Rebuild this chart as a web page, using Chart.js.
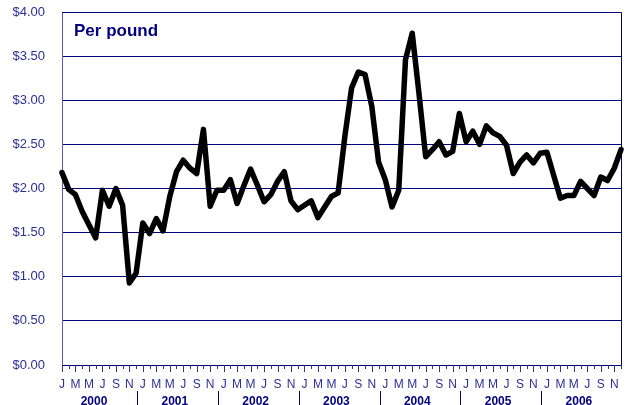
<!DOCTYPE html>
<html>
<head>
<meta charset="utf-8">
<script src="https://cdn.jsdelivr.net/npm/chart.js@4.4.0/dist/chart.umd.min.js"></script>
<style>
  body { margin: 0; background: #fff; }
</style>
</head>
<body>
<canvas id="grafico" width="631" height="405"></canvas>
<script>
const ctx = document.getElementById('grafico');

const years = ['2000', '2001', '2002', '2003', '2004', '2005', '2006']
const monthLetters = ['J', 'F', 'M', 'A', 'M', 'J', 'J', 'A', 'S', 'O', 'N', 'D']

// dollars per pound, one array per year (Jan..Dec)
const price2000 = [2.18, 1.99, 1.93, 1.74, 1.59, 1.44, 1.98, 1.80, 2.00, 1.81, 0.93, 1.04]
const price2001 = [1.61, 1.49, 1.66, 1.52, 1.91, 2.19, 2.32, 2.23, 2.17, 2.67, 1.80, 1.98]
const price2002 = [1.98, 2.10, 1.83, 2.03, 2.22, 2.04, 1.85, 1.93, 2.08, 2.19, 1.86, 1.76]
const price2003 = [1.81, 1.86, 1.67, 1.79, 1.91, 1.95, 2.59, 3.14, 3.32, 3.29, 2.93, 2.30]
const price2004 = [2.10, 1.79, 1.98, 3.46, 3.76, 3.08, 2.36, 2.44, 2.53, 2.38, 2.42, 2.85]
const price2005 = [2.53, 2.65, 2.50, 2.71, 2.63, 2.59, 2.49, 2.17, 2.30, 2.38, 2.29, 2.40]
const price2006 = [2.41, 2.15, 1.89, 1.92, 1.92, 2.08, 2.00, 1.92, 2.13, 2.09, 2.23, 2.44]

const yTicks = [0, 0.5, 1, 1.5, 2, 2.5, 3, 3.5, 4]

const labels = years.flatMap(y => monthLetters.map(m => m + ' ' + y))
const values = [].concat(price2000, price2001, price2002, price2003, price2004, price2005, price2006)

const navy = '#000080'
const labelBlue = '#2e2e96'
const fontFamily = '"Liberation Sans", Arial, sans-serif'

// ticks, year labels, separators and the "Per pound" note
const extras = {
    id: 'extras',
    beforeDatasetsDraw(chart) {
        const { ctx, chartArea } = chart
        ctx.save()
        ctx.strokeStyle = navy
        ctx.lineWidth = 1
        ctx.beginPath()
        ctx.moveTo(chartArea.left, chartArea.top + 0.5)
        ctx.lineTo(chartArea.right + 0.5, chartArea.top + 0.5)
        ctx.lineTo(chartArea.right + 0.5, chartArea.bottom)
        ctx.stroke()

        ctx.fillStyle = navy
        ctx.font = 'bold 17px ' + fontFamily
        ctx.textAlign = 'left'
        ctx.textBaseline = 'alphabetic'
        ctx.fillText('Per pound', chartArea.left + 12, chartArea.top + 24)
        ctx.restore()
    },
    afterDraw(chart) {
        const { ctx, chartArea, scales: { x } } = chart
        const step = x.getPixelForValue(1) - x.getPixelForValue(0)
        ctx.save()
        ctx.strokeStyle = '#333366'
        ctx.lineWidth = 1
        ctx.beginPath()
        labels.forEach((l, i) => {
            const px = Math.round(x.getPixelForValue(i)) + 0.5
            ctx.moveTo(px, chartArea.bottom)
            ctx.lineTo(px, chartArea.bottom + (i % 2 === 0 ? 7 : 4))
        })
        ctx.stroke()

        ctx.strokeStyle = navy
        ctx.fillStyle = navy
        ctx.font = 'bold 12px ' + fontFamily
        ctx.textAlign = 'center'
        ctx.textBaseline = 'alphabetic'
        years.forEach((y, k) => {
            const cx = x.getPixelForValue(k * 12) + 4.75 * step
            ctx.fillText(y, cx, chartArea.bottom + 39.5)
            if (k < years.length - 1) {
                const sx = Math.round(x.getPixelForValue(k * 12 + 11) + 1) + 0.5
                ctx.beginPath()
                ctx.moveTo(sx, chartArea.bottom + 26)
                ctx.lineTo(sx, chartArea.bottom + 40)
                ctx.stroke()
            }
        })
        ctx.restore()
    }
}

const data = {
    labels,
    datasets: [{
        data: values,
        borderColor: '#000000',
        borderWidth: 5.5,
        borderJoinStyle: 'round',
        borderCapStyle: 'round',
        pointRadius: 0,
        tension: 0,
        fill: false,
        clip: false
    }]
}

const config = {
    type: 'line',
    data,
    options: {
        responsive: false,
        animation: false,
        layout: {
            padding: { top: 12, right: 10, left: 0, bottom: 0 }
        },
        scales: {
            x: {
                type: 'category',
                offset: false,
                afterFit: (scale) => {
                    scale.height = 40
                    scale.paddingLeft = 0
                    scale.paddingRight = 0
                },
                grid: {
                    display: true,
                    drawOnChartArea: false,
                    drawTicks: false
                },
                border: { display: true, color: navy, width: 1 },
                ticks: {
                    autoSkip: false,
                    maxRotation: 0,
                    minRotation: 0,
                    padding: 12,
                    color: labelBlue,
                    font: { family: fontFamily, size: 12 },
                    callback: (v, i) => i % 2 === 0 ? monthLetters[i % 12] : ''
                }
            },
            y: {
                min: 0,
                max: 4,
                afterFit: (scale) => {
                    scale.width = 62
                    scale.paddingTop = 0
                    scale.paddingBottom = 0
                },
                afterBuildTicks: (scale) => { scale.ticks = yTicks.map(v => ({ value: v })) },
                grid: {
                    color: navy,
                    lineWidth: 1,
                    drawTicks: false
                },
                border: { display: true, color: '#5a5aa8', width: 1 },
                ticks: {
                    padding: 17,
                    color: labelBlue,
                    font: { family: fontFamily, size: 13 },
                    callback: (v) => '$' + v.toFixed(2)
                }
            }
        },
        plugins: {
            legend: { display: false },
            title: { display: false },
            tooltip: { enabled: false }
        }
    },
    plugins: [extras]
}

const meuGrafico = new Chart(ctx, config);
</script>
</body>
</html>
